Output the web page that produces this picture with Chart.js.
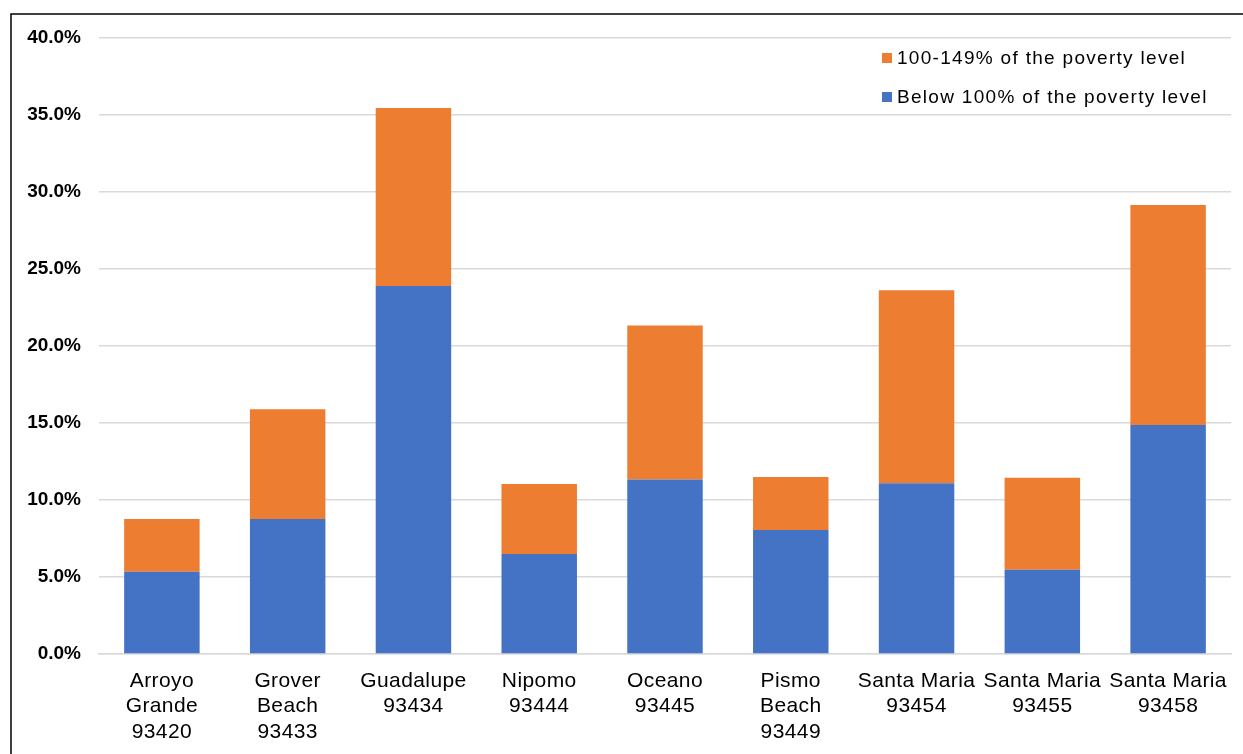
<!DOCTYPE html>
<html>
<head>
<meta charset="utf-8">
<script src="https://cdn.jsdelivr.net/npm/chart.js@4.4.1/dist/chart.umd.min.js"></script>
<style>
  html, body { margin: 0; padding: 0; background: #ffffff; }
  #wrap { width: 1243px; height: 754px; position: relative; }
</style>
</head>
<body>
<div id="wrap"><canvas id="chart" width="1243" height="754"></canvas></div>
<script>
// Zip code areas (multi-line category labels)
const categories = [
  ["Arroyo", "Grande", "93420"],
  ["Grover", "Beach", "93433"],
  ["Guadalupe", "93434"],
  ["Nipomo", "93444"],
  ["Oceano", "93445"],
  ["Pismo", "Beach", "93449"],
  ["Santa Maria", "93454"],
  ["Santa Maria", "93455"],
  ["Santa Maria", "93458"]
];

// Share of population below 100% of the poverty level (%)
const below100 = [5.34, 8.77, 23.9, 6.49, 11.33, 8.05, 11.08, 5.47, 14.87];

// Additional share at 100-149% of the poverty level (%)
const from100to149 = [3.43, 7.13, 11.55, 4.55, 10.0, 3.44, 12.54, 5.98, 14.29];

// Value-axis ticks (%)
const yTicks = [0, 5, 10, 15, 20, 25, 30, 35, 40];

const seriesNames = ["Below 100% of the poverty level", "100-149% of the poverty level"];
const seriesColors = ["#4472C4", "#ED7D31"];

// Outer frame (top and left edges visible)
const framePlugin = {
  id: 'frame',
  beforeDraw(chart) {
    const ctx = chart.ctx;
    ctx.save();
    ctx.fillStyle = '#ffffff';
    ctx.fillRect(0, 0, chart.width, chart.height);
    ctx.strokeStyle = '#000000';
    ctx.lineWidth = 1.5;
    ctx.strokeRect(11, 14, chart.width + 40, chart.height + 40);
    ctx.restore();
  }
};

// Slightly looser letter spacing for the category labels
const spacedLabels = {
  id: 'spacedLabels',
  afterLayout(chart) {
    const xs = chart.scales.x;
    if (xs._spaced) return;
    const orig = xs.drawLabels;
    xs.drawLabels = function (area) {
      const c = this.ctx;
      c.letterSpacing = '0.4px';
      orig.call(this, area);
      c.letterSpacing = '0px';
    };
    xs._spaced = true;
  }
};

// Legend drawn inside the plot area, top-right, in reverse stacking order
const innerLegend = {
  id: 'innerLegend',
  afterDraw(chart) {
    const ctx = chart.ctx;
    const ds = chart.data.datasets.slice().reverse();
    const x0 = 882;
    const y0 = 58;
    const rowGap = 39;
    ctx.save();
    ctx.font = '19px "Liberation Sans", Arial, sans-serif';
    ctx.letterSpacing = '1.3px';
    ctx.textBaseline = 'middle';
    ctx.textAlign = 'left';
    ds.forEach((d, i) => {
      const cy = y0 + i * rowGap;
      ctx.fillStyle = d.backgroundColor;
      ctx.fillRect(x0, cy - 5, 10, 10);
      ctx.fillStyle = '#000000';
      ctx.fillText(d.label, x0 + 15, cy + 1);
    });
    ctx.letterSpacing = '0px';
    ctx.restore();
  }
};

const ctx = document.getElementById('chart').getContext('2d');
new Chart(ctx, {
  type: 'bar',
  data: {
    labels: categories,
    datasets: [
      {
        label: seriesNames[0],
        data: below100,
        backgroundColor: seriesColors[0],
        borderWidth: 0,
        categoryPercentage: 1.0,
        barPercentage: 0.6
      },
      {
        label: seriesNames[1],
        data: from100to149,
        backgroundColor: seriesColors[1],
        borderWidth: 0,
        categoryPercentage: 1.0,
        barPercentage: 0.6
      }
    ]
  },
  options: {
    responsive: false,
    animation: false,
    devicePixelRatio: 1,
    layout: { padding: { left: 0, right: 12, top: 38, bottom: 0 } },
    plugins: {
      legend: { display: false },
      tooltip: { enabled: false }
    },
    scales: {
      x: {
        stacked: true,
        grid: { display: false, drawTicks: false },
        border: { display: true, color: '#d9d9d9', width: 1.5 },
        ticks: {
          color: '#000000',
          font: { family: '"Liberation Sans", Arial, sans-serif', size: 21, lineHeight: 1.22 },
          padding: 14,
          maxRotation: 0,
          autoSkip: false
        },
        afterFit(scale) { scale.height = 100; }
      },
      y: {
        stacked: true,
        min: 0,
        max: 40,
        afterBuildTicks(scale) {
          scale.ticks = yTicks.map(v => ({ value: v }));
        },
        grid: { color: '#d9d9d9', lineWidth: 1.5, drawTicks: false },
        border: { display: false },
        ticks: {
          color: '#000000',
          font: { family: '"Liberation Sans", Arial, sans-serif', size: 19, weight: 'bold' },
          padding: 18,
          callback: v => v.toFixed(1) + '%'
        },
        afterFit(scale) { scale.width = 99; }
      }
    }
  },
  plugins: [framePlugin, spacedLabels, innerLegend]
});
</script>
</body>
</html>
